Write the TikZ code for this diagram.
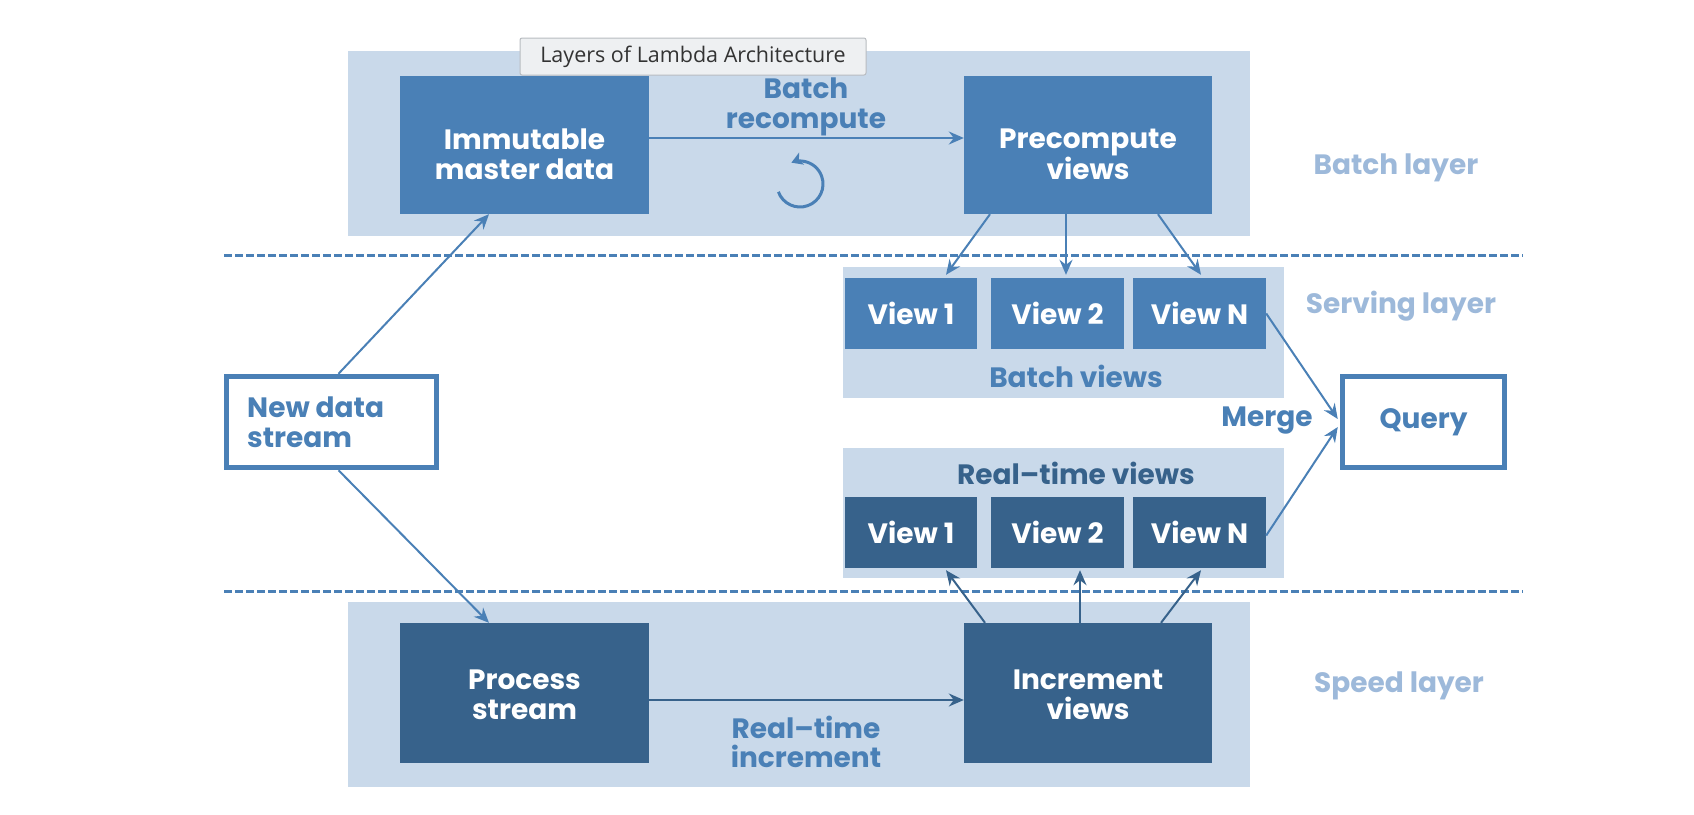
\documentclass[tikz,border=0pt]{standalone}
\usepackage{fontspec}
\setmainfont{Poppins}
\newfontfamily\tipfont{Open Sans}
\usetikzlibrary{arrows.meta}
\definecolor{panel}{HTML}{C9D9EA}
\definecolor{midblue}{HTML}{4A80B6}
\definecolor{darkblue}{HTML}{37628B}
\definecolor{lightlbl}{HTML}{9DB9DA}
\definecolor{tipbg}{HTML}{EEF0F2}
\definecolor{tipline}{HTML}{B8BCC0}
\newcommand{\bigfont}{\bfseries\fontsize{28}{29.5}\selectfont}
\tikzset{
  panelbox/.style={fill=panel, draw=none},
  bbox/.style={fill=midblue, draw=none, inner sep=0pt},
  sbox/.style={bbox, fill=darkblue},
  boxtext/.style={text=white, align=center, font=\bigfont, inner sep=0pt},
  viewbox/.style={fill=midblue, draw=none, text=white, font=\bigfont, inner sep=0pt, minimum height=71pt},
  rtview/.style={viewbox, fill=darkblue},
  outbox/.style={draw=midblue, line width=5.5pt, fill=white, inner sep=0pt},
  lbl/.style={text=midblue, align=center, font=\bigfont, inner sep=0pt},
  layerlbl/.style={text=lightlbl, font=\bigfont, inner sep=0pt},
  arr/.style={draw=midblue, line width=2pt, -{Stealth[length=15pt,width=13pt,inset=5pt]}},
  darr/.style={arr, draw=darkblue},
  sep/.style={draw=midblue, line width=3pt, dash pattern=on 8pt off 3pt},
}
\begin{document}
\begin{tikzpicture}[x=1pt,y=-1pt]
\useasboundingbox (0,0) rectangle (1694,814);
% panels
\fill[panelbox] (348,51) rectangle (1250,236);
\fill[panelbox] (348,602) rectangle (1250,787);
\fill[panelbox] (843,267) rectangle (1284,398);
\fill[panelbox] (843,448) rectangle (1284,578);
% separators
\coordinate (s1a) at (224,255); \coordinate (s1b) at (1523,255);
\coordinate (s2a) at (224,591); \coordinate (s2b) at (1523,591);
\draw[sep] (s1a) -- (s1b);
\draw[sep] (s2a) -- (s2b);
% main boxes
\node[bbox, minimum width=249pt, minimum height=138pt] (imm) at (524.5,145) {};
\node[boxtext] (immt) at ([yshift=-9pt]imm.center) {Immutable\\master data};
\node[bbox, minimum width=248pt, minimum height=138pt] (pre) at (1088,145) {};
\node[boxtext] (pret) at ([yshift=-9pt]pre.center) {Precompute\\views};
\node[sbox, minimum width=249pt, minimum height=140pt] (proc) at (524.5,693) {};
\node[boxtext] (proct) at ([yshift=-2pt]proc.center) {Process\\stream};
\node[sbox, minimum width=248pt, minimum height=140pt] (inc) at (1088,693) {};
\node[boxtext] (inct) at ([yshift=-2pt]inc.center) {Increment\\views};
% views
\node[viewbox, minimum width=132pt] (bv1) at (911,313.5) {View 1};
\node[viewbox, minimum width=133pt] (bv2) at (1057.5,313.5) {View 2};
\node[viewbox, minimum width=133pt] (bvn) at (1199.5,313.5) {View N};
\node[rtview, minimum width=132pt] (rv1) at (911,532.5) {View 1};
\node[rtview, minimum width=133pt] (rv2) at (1057.5,532.5) {View 2};
\node[rtview, minimum width=133pt] (rvn) at (1199.5,532.5) {View N};
% in/out
\node[outbox, minimum width=210pt, minimum height=91pt] (nds) at (331.5,422) {};
\node[lbl, align=left, anchor=west] (ndst) at (247,422) {New data\\stream};
\node[outbox, minimum width=162pt, minimum height=91pt] (qry) at (1423.5,422) {};
\node[lbl] (qryt) at (qry.center) {Query};
% labels
\node[lbl] (lbr) at (806,107) {Batch\\recompute};
\node[lbl] (lri) at (806,742) {Real–time\\increment};
\node[lbl] (lbv) at (1076,376) {Batch views};
\node[lbl, text=darkblue] (lrv) at (1076,473) {Real–time views};
\node[lbl] (lmg) at (1267,421) {Merge};
\node[layerlbl] (lb) at (1396,168) {Batch layer};
\node[layerlbl] (ls) at (1401,306) {Serving layer};
\node[layerlbl] (lsp) at (1399,686) {Speed layer};
% recompute icon
\coordinate (cyc) at (800,184);
\draw[draw=midblue, line width=3pt, -{Stealth[length=11pt,width=13pt,inset=3pt]}] (cyc) ++(160:23) arc[start angle=160, end angle=-112, radius=23];
% connectors
\draw[arr] ([xshift=7pt]nds.north) -- ([xshift=-35.5pt]imm.south);
\draw[arr] ([xshift=7pt]nds.south) -- ([xshift=-35.5pt]proc.north);
\draw[arr] ([yshift=7pt]imm.east) -- ([yshift=7pt]pre.west);
\draw[darr] ([yshift=-7pt]proc.east) -- ([yshift=-7pt]inc.west);
\draw[arr] ([xshift=-98pt]pre.south) -- ([xshift=35pt,yshift=3pt]bv1.north);
\draw[arr] ([xshift=-22pt]pre.south) -- ([xshift=8.5pt,yshift=3pt]bv2.north);
\draw[arr] ([xshift=70pt]pre.south) -- ([xshift=1.5pt,yshift=3pt]bvn.north);
\draw[darr] ([xshift=-103pt]inc.north) -- ([xshift=35pt,yshift=-2pt]rv1.south);
\draw[darr] ([xshift=-8pt]inc.north) -- ([xshift=22.5pt,yshift=-2pt]rv2.south);
\draw[darr] ([xshift=73pt]inc.north) -- ([xshift=1.5pt,yshift=-2pt]rvn.south);
\draw[arr] (bvn.east) -- ([yshift=3pt,xshift=-2pt]qry.west);
\draw[arr] ([yshift=-3pt]rvn.east) -- ([yshift=-5pt,xshift=-2pt]qry.west);
% tooltip
\node[fill=tipbg, draw=tipline, line width=1pt, rounded corners=2pt, minimum width=346pt, minimum height=37pt, inner sep=0pt, text=black!80, font=\tipfont\fontsize{21.5}{24}\selectfont] (tip) at (693,56.5) {Layers of Lambda Architecture};
\end{tikzpicture}
\end{document}
